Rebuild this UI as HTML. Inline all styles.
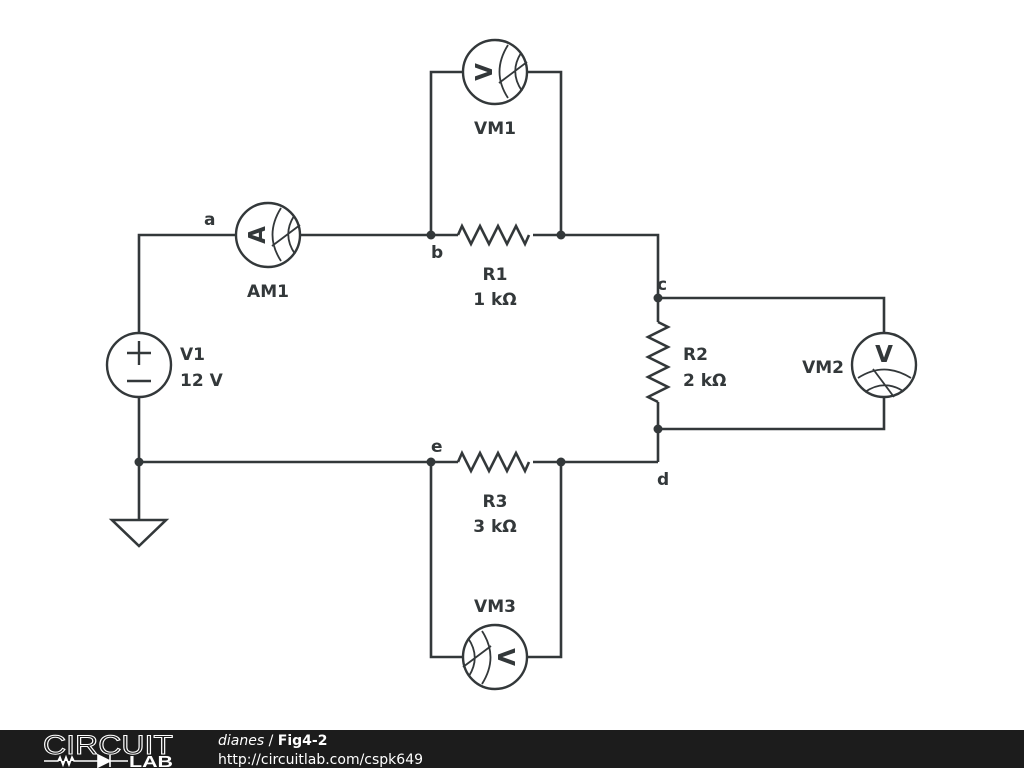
<!DOCTYPE html>
<html><head><meta charset="utf-8"><style>
html,body{margin:0;padding:0;background:#fff;width:1024px;height:768px;overflow:hidden}
svg{display:block}
text{font-family:"DejaVu Sans","Liberation Sans",sans-serif;font-weight:bold;fill:#33383a}
</style></head><body>
<svg width="1024" height="768" viewBox="0 0 1024 768">
<defs>
<g id="meter">
<circle cx="0" cy="0" r="32" fill="#fff" stroke="#33383a" stroke-width="2.4"/>
<path d="M-26 13 Q0 -4 27 13 M-19 27 Q0 14 19 26 M-11 4 L10 32" fill="none" stroke="#33383a" stroke-width="1.8"/>
</g>
</defs>
<g stroke="#33383a" stroke-width="2.6" fill="none" stroke-linejoin="miter">
<path d="M139 333 V235 H236 M300 235 H458 M533 235 H658 V322 M658 402 V462"/>
<path d="M458 235 l4 -9 l9 18 l9 -18 l9 18 l9 -18 l9 18 l9 -18 l9 18 l4 -9"/>
<path d="M431 235 V72 H463 M527 72 H561 V235"/>
<path d="M658 322 l10 5 l-20 10 l20 10 l-20 10 l20 10 l-20 10 l20 10 l-20 10 l10 5"/>
<path d="M658 298 H884 V333 M884 397 V429 H658"/>
<path d="M139 397 V520 M139 462 H458 M533 462 H658"/>
<path d="M458 462 l4 -9 l9 18 l9 -18 l9 18 l9 -18 l9 18 l9 -18 l9 18 l4 -9"/>
<path d="M431 462 V657 H463 M527 657 H561 V462"/>
<path d="M112 520 H166 L139 546 Z"/>
</g>
<circle cx="139" cy="365" r="32" fill="#fff" stroke="#33383a" stroke-width="2.4"/>
<path d="M127 353 H151 M139 341 V365 M127 381 H151" stroke="#33383a" stroke-width="2.4"/>
<g transform="translate(268,235) rotate(-90)"><use href="#meter"/><text x="0" y="-3" font-size="23" text-anchor="middle">A</text></g>
<g transform="translate(495,72) rotate(-90)"><use href="#meter"/><text x="0" y="-3" font-size="23" text-anchor="middle">V</text></g>
<g transform="translate(884,365)"><use href="#meter"/><text x="0" y="-3" font-size="23" text-anchor="middle">V</text></g>
<g transform="translate(495,657) rotate(90)"><use href="#meter"/><text x="0" y="-3" font-size="23" text-anchor="middle">V</text></g>
<g fill="#33383a">
<circle cx="431" cy="235" r="4.5"/><circle cx="561" cy="235" r="4.5"/>
<circle cx="658" cy="298" r="4.5"/><circle cx="658" cy="429" r="4.5"/>
<circle cx="139" cy="462" r="4.5"/><circle cx="431" cy="462" r="4.5"/><circle cx="561" cy="462" r="4.5"/>
</g>
<g font-size="17">
<text x="204" y="225">a</text>
<text x="431" y="258">b</text>
<text x="657" y="290">c</text>
<text x="657" y="485">d</text>
<text x="431" y="452">e</text>
<text x="495" y="134" text-anchor="middle">VM1</text>
<text x="268" y="297" text-anchor="middle">AM1</text>
<text x="495" y="280" text-anchor="middle">R1</text>
<text x="495" y="305" text-anchor="middle">1 kΩ</text>
<text x="683" y="360">R2</text>
<text x="683" y="386">2 kΩ</text>
<text x="844" y="373" text-anchor="end">VM2</text>
<text x="180" y="360">V1</text>
<text x="180" y="386">12 V</text>
<text x="495" y="507" text-anchor="middle">R3</text>
<text x="495" y="532" text-anchor="middle">3 kΩ</text>
<text x="495" y="612" text-anchor="middle">VM3</text>
</g>
<rect x="0" y="730" width="1024" height="38" fill="#1c1c1c"/>
<text x="43" y="754" font-size="27" textLength="130" lengthAdjust="spacingAndGlyphs" style="font-weight:normal;fill:none;stroke:#fff;stroke-width:1;font-family:'Liberation Sans',sans-serif">CIRCUIT</text>
<path d="M44 761 H58 l2 -4 l3 8 l3 -8 l3 8 l3 -8 l2 4 H98 M98 755 V767 L110 761 Z M110 755 V767 M110 761 H128" stroke="#fff" stroke-width="1.6" fill="#fff"/>
<text x="129" y="767" font-size="16" textLength="44" lengthAdjust="spacingAndGlyphs" style="fill:#fff;font-family:'Liberation Sans',sans-serif">LAB</text>
<text x="218" y="745" font-size="14" style="fill:#fff;font-weight:normal"><tspan font-style="italic">dianes</tspan> / <tspan font-weight="bold">Fig4-2</tspan></text>
<text x="218" y="764" font-size="14" style="fill:#fff;font-weight:normal">http://circuitlab.com/cspk649</text>
</svg>
</body></html>
